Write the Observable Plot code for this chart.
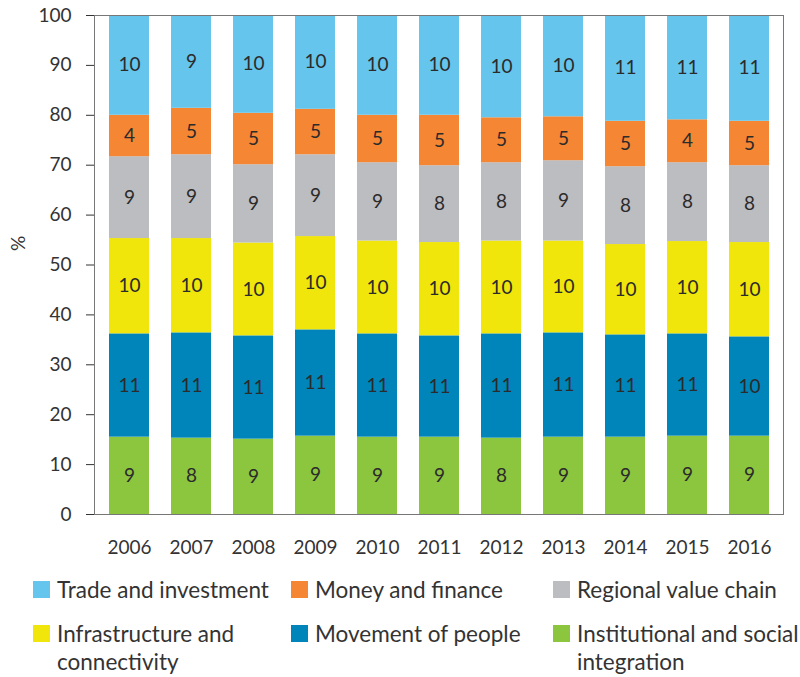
<!DOCTYPE html>
<html>
<head>
<meta charset="utf-8">
<script src="https://cdn.jsdelivr.net/npm/d3@7"></script>
<script src="https://cdn.jsdelivr.net/npm/@observablehq/plot@0.6"></script>
<style>
  body { margin: 0; background: #fff; font-family: Lato, "Open Sans", sans-serif; }
  #chart { width: 800px; }
  .legend { display: grid; grid-template-columns: 258px 262px 247px; padding: 11px 0 0 33px; row-gap: 16px; color: #333; font-size: 22.5px; line-height: 28px; }
  .item { display: flex; align-items: flex-start; white-space: nowrap; }
  .sw { width: 17px; height: 17px; flex: none; margin-top: 5px; margin-right: 7px; }
</style>
</head>
<body>
<div id="chart"></div>
<script>
const years = ["2006","2007","2008","2009","2010","2011","2012","2013","2014","2015","2016"];
const series = ["Institutional and social integration","Movement of people","Infrastructure and connectivity","Regional value chain","Money and finance","Trade and investment"];
const colors = ["#8cc63f","#0085bb","#f0e60b","#bcbdc0","#f48634","#66c5ec"];

// share of each segment in %
const institutionalShare = [15.5,15.3,15.1,15.7,15.5,15.5,15.3,15.5,15.5,15.7,15.7];
const movementShare      = [20.7,21.1,20.7,21.3,20.7,20.3,20.9,20.9,20.5,20.5,19.9];
const infraShare         = [19.1,18.9,18.6,18.7,18.6,18.7,18.6,18.4,18.1,18.5,18.9];
const valueChainShare    = [16.4,16.8,15.7,16.4,15.7,15.4,15.7,16.1,15.6,15.8,15.4];
const moneyShare         = [8.3,9.3,10.3,9.1,9.5,10.1,9.0,8.8,9.1,8.6,8.9];
const tradeShare         = [20.0,18.6,19.6,18.8,20.0,20.0,20.5,20.3,21.2,20.9,21.2];

// value labels printed on segments
const institutionalLabel = [9,8,9,9,9,9,8,9,9,9,9];
const movementLabel      = [11,11,11,11,11,11,11,11,11,11,10];
const infraLabel         = [10,10,10,10,10,10,10,10,10,10,10];
const valueChainLabel    = [9,9,9,9,9,8,8,9,8,8,8];
const moneyLabel         = [4,5,5,5,5,5,5,5,5,4,5];
const tradeLabel         = [10,9,10,10,10,10,10,10,11,11,11];

const shares = [institutionalShare, movementShare, infraShare, valueChainShare, moneyShare, tradeShare];
const labels = [institutionalLabel, movementLabel, infraLabel, valueChainLabel, moneyLabel, tradeLabel];

const data = [];
years.forEach((yr, i) => {
  series.forEach((s, j) => {
    data.push({year: yr, series: s, share: shares[j][i], label: labels[j][i]});
  });
});

const chart = Plot.plot({
  width: 800,
  height: 565,
  marginTop: 15,
  marginBottom: 51,
  marginLeft: 94,
  marginRight: 17,
  style: {fontFamily: "Lato, 'Open Sans', sans-serif", fontSize: "19px", color: "#333", background: "#fff"},
  x: {domain: years, paddingInner: 0.36, paddingOuter: 0.18, label: null, tickSize: 0, tickPadding: 26, line: true},
  y: {domain: [0, 100], ticks: d3.range(0, 101, 10), label: null, tickSize: 8, tickPadding: 15, line: true},
  color: {domain: series, range: colors},
  marks: [
    Plot.barY(data, {x: "year", y: "share", fill: "series", z: "series"}),
    Plot.text(data, Plot.stackY({x: "year", y: "share", z: "series", text: "label", fill: "#2b2b2b", fontSize: 19})),
    Plot.frame({stroke: "#777"}),
    Plot.text(["%"], {frameAnchor: "left", dx: -76, dy: -14, rotate: -90, text: d => d, fill: "#333", fontSize: 19})
  ]
});
document.getElementById("chart").appendChild(chart);

const legendOrder = ["Trade and investment","Money and finance","Regional value chain","Infrastructure and connectivity","Movement of people","Institutional and social integration"];
const legendText = {
  "Infrastructure and connectivity": "Infrastructure and<br>connectivity",
  "Institutional and social integration": "Institutional and social<br>integration"
};
const leg = document.createElement("div");
leg.className = "legend";
legendOrder.forEach(s => {
  const it = document.createElement("div");
  it.className = "item";
  const sw = document.createElement("span");
  sw.className = "sw";
  sw.style.background = colors[series.indexOf(s)];
  const t = document.createElement("span");
  t.innerHTML = legendText[s] || s;
  it.appendChild(sw); it.appendChild(t);
  leg.appendChild(it);
});
document.getElementById("chart").appendChild(leg);
</script>
</body>
</html>
